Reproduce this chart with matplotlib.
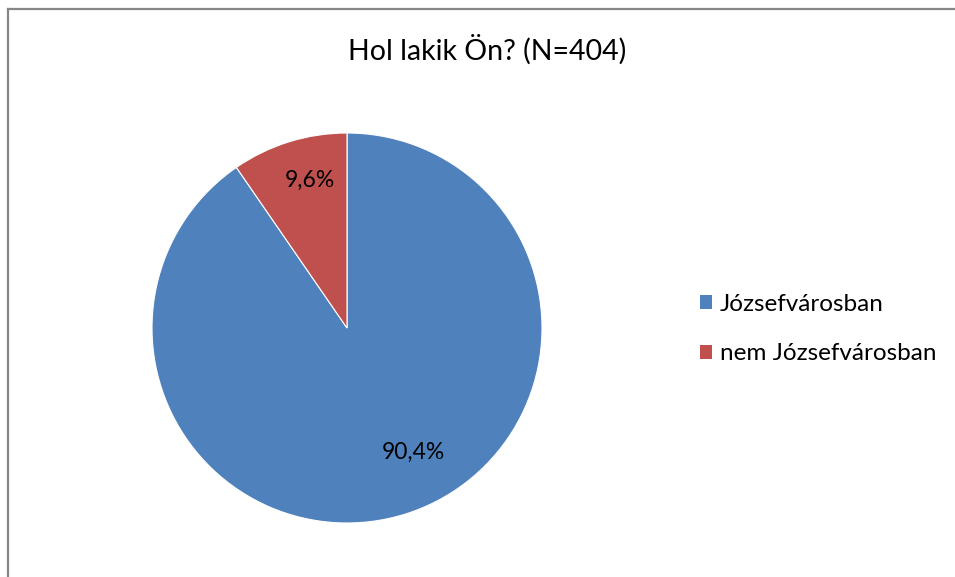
import numpy as np
import matplotlib.pyplot as plt
from matplotlib.lines import Line2D
from matplotlib.patches import Patch

# data
categories = ['Józsefvárosban', 'nem Józsefvárosban']
shares = [90.4, 9.6]
colors = ['#4F81BD', '#C0504D']
title = 'Hol lakik Ön? (N=404)'

plt.rcParams['font.family'] = ['Lato', 'DejaVu Sans']

W, H = 955, 577
fig = plt.figure(figsize=(W / 100, H / 100), dpi=100)

# pie axes: centre ~(347, 328) px, radius ~195 px
cx, cy, r = 347, 328, 195
ax = fig.add_axes([(cx - r) / W, (H - cy - r) / H, 2 * r / W, 2 * r / H])
wedges, texts, autotexts = ax.pie(
    shares, colors=colors, startangle=90, counterclock=False, radius=1,
    autopct=lambda p: f'{p:.1f}%'.replace('.', ','), pctdistance=0.78,
    wedgeprops=dict(edgecolor='white', linewidth=0.8),
    textprops=dict(fontsize=16.5, color='black'))
ax.set_xlim(-1, 1)
ax.set_ylim(-1, 1)
ax.set_aspect('auto')
ax.axis('off')

# Excel puts the big slice label lower-right of the centre
ang = np.deg2rad(-62)
autotexts[0].set_position((0.72 * np.cos(ang), 0.72 * np.sin(ang)))
autotexts[1].set_position((0.78 * np.cos(np.deg2rad(104)), 0.78 * np.sin(np.deg2rad(104))))

fig.text(487 / W, 1 - 50 / H, title, ha='center', va='center', fontsize=20.5)

handles = [Patch(facecolor=c, edgecolor='none') for c in colors]
fig.legend(handles, categories, loc='center left',
           bbox_to_anchor=(700 / W, 1 - 329 / H), frameon=False, borderpad=0,
           borderaxespad=0, fontsize=17.5, handlelength=0.5, handleheight=0.5,
           handletextpad=0.33, labelspacing=1.18)

# chart frame (only left and top visible in the crop)
fig.add_artist(Line2D([7.5 / W, 7.5 / W], [0, 1 - 8.5 / H], color='#878787', linewidth=1.6,
                      transform=fig.transFigure))
fig.add_artist(Line2D([7.5 / W, 1], [1 - 8.5 / H, 1 - 8.5 / H], color='#878787', linewidth=1.6,
                      transform=fig.transFigure))

fig.savefig('out.png', dpi=100)
